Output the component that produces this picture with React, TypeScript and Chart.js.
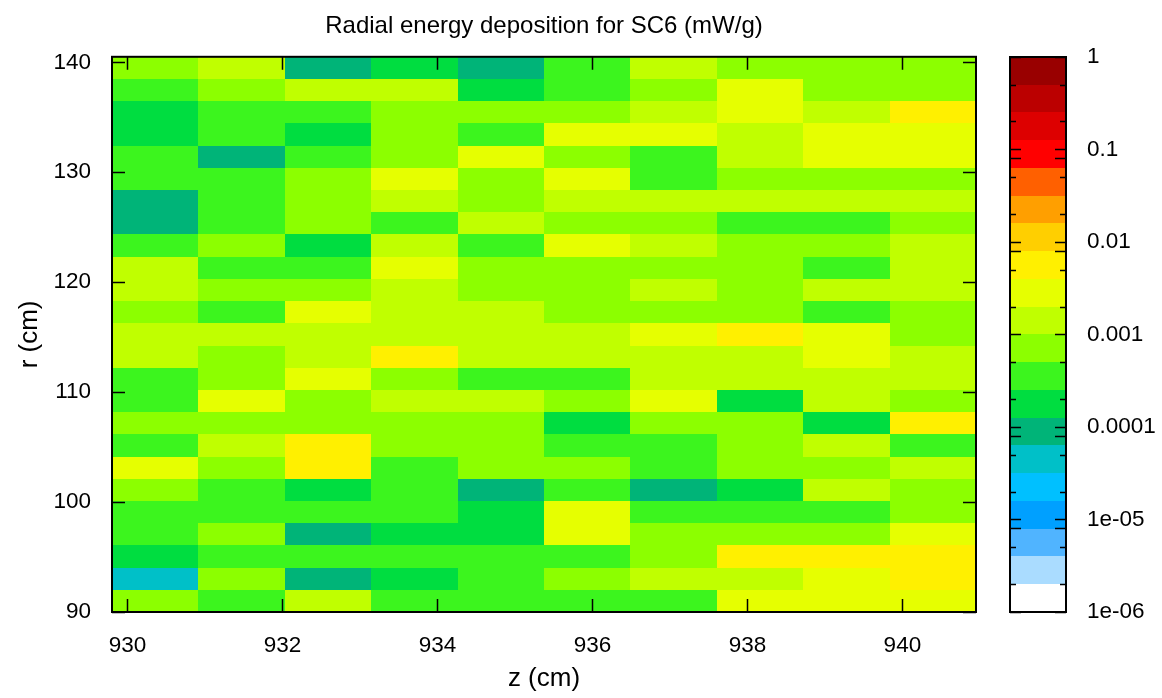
import React, { useEffect, useRef } from 'react';
import { Chart, registerables } from 'chart.js';

Chart.register(...registerables);

const FONT = 'Liberation Sans, Arial, Helvetica, sans-serif';

const chartTitle = 'Radial energy deposition for SC6 (mW/g)';
const xAxisTitle = 'z (cm)';
const yAxisTitle = 'r (cm)';

// bin edges of the scoring mesh
const zEdges = [929.8, 930.915, 932.03, 933.145, 934.26, 935.375, 936.49, 937.605, 938.72, 939.835, 940.95];
const rEdges = [
  90, 92.02, 94.04, 96.06, 98.08, 100.1, 102.12, 104.14, 106.16, 108.18, 110.2, 112.22, 114.24,
  116.26, 118.28, 120.3, 122.32, 124.34, 126.36, 128.38, 130.4, 132.42, 134.44, 136.46, 138.48, 140.5,
];

const xTickValues = [930, 932, 934, 936, 938, 940];
const yTickValues = [90, 100, 110, 120, 130, 140];

// colour bar (log scale)
const cbMin = 1e-6;
const cbMax = 1;
const cbTickValues = [1e-6, 1e-5, 1e-4, 1e-3, 1e-2, 1e-1, 1];
const cbTickLabels = ['1e-06', '1e-05', '0.0001', '0.001', '0.01', '0.1', '1'];
const cbLongTicks = [8e-6, 8e-5, 8e-3, 8e-2];
const cbShortTicks = [2e-6, 5e-6, 2e-5, 5e-5, 2e-4, 5e-4, 2e-3, 5e-3, 2e-2, 5e-2, 0.2, 0.5];
// palette steps from the lowest to the highest value
const paletteColors = [
  '#ffffff', '#aadcff', '#50b4ff', '#00a0ff', '#00c0ff', '#00c0c8', '#00b478', '#00dd40', '#3cf51e', '#8cff00',
  '#c0ff00', '#e6ff00', '#fff000', '#ffcf00', '#ff9f00', '#ff6000', '#ff0000', '#dd0000', '#bb0000', '#990000',
];

// energy deposition (mW/g) in each z bin, listed from r = 90 cm upward
const depZ1 = [7.2e-4, 4.6e-5, 1.9e-4, 3.6e-4, 3.1e-4, 6.8e-4, 2.6e-3, 3.3e-4, 7.9e-4, 3.9e-4, 3.4e-4, 1.3e-3, 1.4e-3, 8.1e-4, 1.2e-3, 1.5e-3, 3.8e-4, 9.4e-5, 1.1e-4, 4.1e-4, 3.2e-4, 1.8e-4, 2.1e-4, 3.7e-4, 6.6e-4];
const depZ2 = [3.5e-4, 6.4e-4, 2.9e-4, 8.3e-4, 4.2e-4, 3.3e-4, 7.4e-4, 1.4e-3, 6.1e-4, 2.5e-3, 8.6e-4, 7.0e-4, 1.2e-3, 3.8e-4, 9.1e-4, 3.1e-4, 7.7e-4, 4.4e-4, 3.6e-4, 2.9e-4, 1.0e-4, 4.0e-4, 3.2e-4, 5.8e-4, 1.6e-3];
const depZ3 = [1.7e-3, 8.2e-5, 4.3e-4, 9.6e-5, 2.7e-4, 1.7e-4, 5.2e-3, 6.1e-3, 6.9e-4, 8.8e-4, 2.3e-3, 1.5e-3, 1.8e-3, 2.7e-3, 7.3e-4, 4.6e-4, 2.3e-4, 9.2e-4, 5.7e-4, 8.4e-4, 3.4e-4, 1.5e-4, 4.8e-4, 1.3e-3, 8.7e-5];
const depZ4 = [3.9e-4, 2.0e-4, 3.0e-4, 1.6e-4, 3.7e-4, 4.1e-4, 2.8e-4, 7.1e-4, 6.3e-4, 1.6e-3, 9.4e-4, 5.9e-3, 1.3e-3, 1.9e-3, 1.1e-3, 2.2e-3, 1.7e-3, 3.5e-4, 1.2e-3, 3.1e-3, 8.0e-4, 6.7e-4, 9.0e-4, 1.8e-3, 2.2e-4];
const depZ5 = [3.3e-4, 4.5e-4, 3.8e-4, 1.9e-4, 2.3e-4, 1.2e-4, 6.5e-4, 8.9e-4, 7.6e-4, 1.4e-3, 4.0e-4, 1.6e-3, 1.2e-3, 1.5e-3, 9.5e-4, 5.6e-4, 2.9e-4, 1.1e-3, 8.2e-4, 6.0e-4, 2.4e-3, 3.6e-4, 7.0e-4, 1.7e-4, 1.0e-4];
const depZ6 = [4.1e-4, 8.7e-4, 3.2e-4, 2.6e-3, 3.0e-3, 2.7e-4, 7.8e-4, 4.3e-4, 1.5e-4, 6.2e-4, 3.9e-4, 1.3e-3, 1.7e-3, 7.5e-4, 9.3e-4, 6.6e-4, 2.5e-3, 8.1e-4, 1.4e-3, 2.8e-3, 5.4e-4, 2.3e-3, 9.7e-4, 3.4e-4, 4.7e-4];
const depZ7 = [3.6e-4, 1.2e-3, 6.8e-4, 7.3e-4, 2.9e-4, 1.1e-4, 4.4e-4, 3.5e-4, 8.5e-4, 2.7e-3, 1.9e-3, 1.5e-3, 2.4e-3, 6.4e-4, 1.1e-3, 7.9e-4, 1.6e-3, 5.9e-4, 1.3e-3, 3.1e-4, 4.2e-4, 2.9e-3, 1.4e-3, 9.0e-4, 1.7e-3];
const depZ8 = [2.5e-3, 1.8e-3, 4.7e-3, 7.5e-4, 3.7e-4, 2.1e-4, 8.6e-4, 6.9e-4, 5.8e-4, 1.8e-4, 1.4e-3, 1.2e-3, 5.0e-3, 8.3e-4, 6.1e-4, 9.2e-4, 7.4e-4, 4.5e-4, 1.6e-3, 8.8e-4, 1.9e-3, 1.3e-3, 2.6e-3, 3.2e-3, 7.7e-4];
const depZ9 = [2.8e-3, 2.2e-3, 5.3e-3, 6.7e-4, 4.8e-4, 1.5e-3, 9.3e-4, 1.7e-3, 2.0e-4, 1.2e-3, 1.8e-3, 2.4e-3, 2.9e-3, 3.6e-4, 1.6e-3, 4.4e-4, 6.5e-4, 3.8e-4, 1.1e-3, 8.5e-4, 3.3e-3, 2.7e-3, 1.9e-3, 7.1e-4, 5.7e-4];
const depZ10 = [3.1e-3, 6.2e-3, 5.7e-3, 2.3e-3, 8.2e-4, 7.0e-4, 1.3e-3, 4.6e-4, 6.8e-3, 7.6e-4, 1.5e-3, 1.7e-3, 9.6e-4, 8.4e-4, 1.4e-3, 1.8e-3, 1.2e-3, 6.3e-4, 1.1e-3, 9.1e-4, 3.5e-3, 2.6e-3, 4.9e-3, 8.9e-4, 7.3e-4];

const depositionColumns = [depZ1, depZ2, depZ3, depZ4, depZ5, depZ6, depZ7, depZ8, depZ9, depZ10];

const logMin = Math.log10(cbMin);
const logMax = Math.log10(cbMax);

function paletteIndex(v: number): number {
  const t = (Math.log10(v) - logMin) / (logMax - logMin);
  return Math.min(paletteColors.length - 1, Math.max(0, Math.floor(t * paletteColors.length + 1e-9)));
}

type Cell = { x: number; y: number; v: number; z0: number; z1: number; r0: number; r1: number };

// scales keep a fixed box size and do not push the plot area around
function fixBox(width: number | null, height: number | null) {
  return (s: any) => {
    if (width !== null) s.width = width;
    if (height !== null) s.height = height;
    s.paddingTop = 0;
    s.paddingBottom = 0;
    s.paddingLeft = 0;
    s.paddingRight = 0;
  };
}

// fills each mesh bin with its palette colour
const heatmapPlugin = {
  id: 'heatmapCells',
  beforeDatasetsDraw(chart: any) {
    const { ctx, chartArea, scales } = chart;
    const xs = scales.x;
    const ys = scales.y;
    ctx.save();
    ctx.beginPath();
    ctx.rect(chartArea.left, chartArea.top, chartArea.width, chartArea.height);
    ctx.clip();
    const cells: Cell[] = chart.data.datasets[0].data;
    for (const c of cells) {
      const xa = Math.round(xs.getPixelForValue(c.z0));
      const xb = Math.round(xs.getPixelForValue(c.z1));
      const ya = Math.round(ys.getPixelForValue(c.r1));
      const yb = Math.round(ys.getPixelForValue(c.r0));
      ctx.fillStyle = paletteColors[paletteIndex(c.v)];
      ctx.fillRect(xa, ya, xb - xa, yb - ya);
    }
    ctx.restore();
  },
};

// plot frame, inward tics on all sides, and the colour box
const framePlugin = {
  id: 'frameAndColorbox',
  afterDraw(chart: any) {
    const { ctx, chartArea, scales } = chart;
    const { left, right, top, bottom } = chartArea;
    const xs = scales.x;
    const ys = scales.y;
    const cb = scales.cb;
    ctx.save();
    ctx.strokeStyle = '#000';

    ctx.lineWidth = 1.5;
    const tic = 13;
    ctx.beginPath();
    for (const v of xTickValues) {
      const px = Math.round(xs.getPixelForValue(v)) + 0.5;
      ctx.moveTo(px, bottom);
      ctx.lineTo(px, bottom - tic);
      ctx.moveTo(px, top);
      ctx.lineTo(px, top + tic);
    }
    for (const v of yTickValues) {
      const py = Math.round(ys.getPixelForValue(v)) + 0.5;
      ctx.moveTo(left, py);
      ctx.lineTo(left + tic, py);
      ctx.moveTo(right, py);
      ctx.lineTo(right - tic, py);
    }
    ctx.stroke();

    ctx.lineWidth = 2;
    ctx.strokeRect(left, top, right - left, bottom - top);

    // colour box
    const bx0 = Math.round(cb.left + 34);
    const bx1 = Math.round(cb.left + 90);
    const n = paletteColors.length;
    for (let k = 0; k < n; k++) {
      const lo = Math.pow(10, logMin + ((logMax - logMin) * k) / n);
      const hi = Math.pow(10, logMin + ((logMax - logMin) * (k + 1)) / n);
      const ya = Math.round(cb.getPixelForValue(hi));
      const yb = Math.round(cb.getPixelForValue(lo));
      ctx.fillStyle = paletteColors[k];
      ctx.fillRect(bx0, ya, bx1 - bx0, yb - ya);
    }
    ctx.lineWidth = 1.5;
    ctx.beginPath();
    const drawCbTic = (v: number, len: number) => {
      const py = Math.round(cb.getPixelForValue(v)) + 0.5;
      ctx.moveTo(bx0, py);
      ctx.lineTo(bx0 + len, py);
      ctx.moveTo(bx1, py);
      ctx.lineTo(bx1 - len, py);
    };
    cbTickValues.forEach((v) => drawCbTic(v, 11));
    cbLongTicks.forEach((v) => drawCbTic(v, 11));
    cbShortTicks.forEach((v) => drawCbTic(v, 6));
    ctx.stroke();
    ctx.lineWidth = 2;
    ctx.strokeRect(bx0, Math.round(cb.top), bx1 - bx0, Math.round(cb.bottom) - Math.round(cb.top));
    ctx.restore();
  },
};

export default function App() {
  const canvasRef = useRef<HTMLCanvasElement>(null);

  useEffect(() => {
    const canvas = canvasRef.current;
    if (!canvas) return;
    const cells: Cell[] = [];
    depositionColumns.forEach((col, i) => {
      col.forEach((v, j) => {
        cells.push({
          x: (zEdges[i] + zEdges[i + 1]) / 2,
          y: (rEdges[j] + rEdges[j + 1]) / 2,
          v,
          z0: zEdges[i],
          z1: zEdges[i + 1],
          r0: rEdges[j],
          r1: rEdges[j + 1],
        });
      });
    });

    const chart = new Chart(canvas, {
      type: 'scatter',
      data: {
        datasets: [
          {
            data: cells as any,
            pointRadius: 0,
            pointHoverRadius: 0,
            showLine: false,
          },
        ],
      },
      options: {
        animation: false,
        responsive: true,
        maintainAspectRatio: false,
        events: [],
        layout: { padding: 0, autoPadding: false },
        plugins: {
          legend: { display: false },
          tooltip: { enabled: false },
          title: {
            display: true,
            text: chartTitle,
            fullSize: false,
            color: '#000',
            font: { family: FONT, size: 24, weight: 'normal' },
            padding: { top: 12, bottom: 16 },
          },
        },
        scales: {
          x: {
            type: 'linear',
            position: 'bottom',
            min: zEdges[0],
            max: zEdges[zEdges.length - 1],
            grid: { display: false, drawTicks: false },
            border: { display: false },
            afterBuildTicks: (s: any) => {
              s.ticks = xTickValues.map((value) => ({ value }));
            },
            afterFit: fixBox(null, 86),
            ticks: {
              color: '#000',
              font: { family: FONT, size: 22.5 },
              padding: 20,
              maxRotation: 0,
              autoSkip: false,
              callback: (v: any) => String(v),
            },
            title: {
              display: true,
              text: xAxisTitle,
              color: '#000',
              font: { family: FONT, size: 26 },
              padding: { top: 0, bottom: 4 },
            },
          },
          y: {
            type: 'linear',
            position: 'left',
            min: rEdges[0],
            max: rEdges[rEdges.length - 1],
            grid: { display: false, drawTicks: false },
            border: { display: false },
            afterBuildTicks: (s: any) => {
              s.ticks = yTickValues.map((value) => ({ value }));
            },
            afterFit: fixBox(112, null),
            ticks: {
              color: '#000',
              font: { family: FONT, size: 22.5 },
              padding: 21,
              autoSkip: false,
              callback: (v: any) => String(v),
            },
            title: {
              display: true,
              text: yAxisTitle,
              color: '#000',
              font: { family: FONT, size: 26 },
              padding: { top: 14, bottom: 0 },
            },
          },
          cb: {
            type: 'logarithmic',
            position: 'right',
            min: cbMin,
            max: cbMax,
            grid: { display: false, drawTicks: false },
            border: { display: false },
            afterBuildTicks: (s: any) => {
              s.ticks = cbTickValues.map((value) => ({ value, major: true }));
            },
            afterFit: fixBox(186, null),
            ticks: {
              color: '#000',
              font: { family: FONT, size: 22.5 },
              padding: 111,
              autoSkip: false,
              callback: (v: any) => {
                const i = cbTickValues.findIndex((t) => Math.abs(Math.log10(t) - Math.log10(v)) < 1e-6);
                return i >= 0 ? cbTickLabels[i] : '';
              },
            },
          },
        },
      } as any,
      plugins: [heatmapPlugin, framePlugin],
    });

    return () => chart.destroy();
  }, []);

  return (
    <div style={{ position: 'absolute', left: 0, top: 0, width: 1162, height: 698, background: '#fff' }}>
      <canvas ref={canvasRef} />
    </div>
  );
}
